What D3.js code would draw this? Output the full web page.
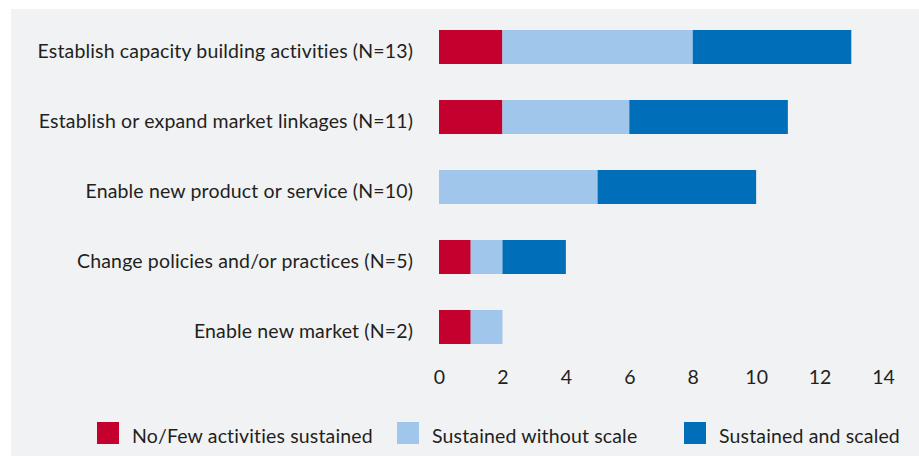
<!DOCTYPE html>
<html><head><meta charset="utf-8">
<script src="https://cdn.jsdelivr.net/npm/d3@7"></script>
<style>html,body{margin:0;padding:0;background:#fff;}svg{display:block;}</style>
</head><body>
<svg id="chart" width="919" height="456"></svg>
<script>
const categories = [
  "Establish capacity building activities (N=13)",
  "Establish or expand market linkages (N=11)",
  "Enable new product or service (N=10)",
  "Change policies and/or practices (N=5)",
  "Enable new market (N=2)"
];
const seriesNames = ["No/Few activities sustained", "Sustained without scale", "Sustained and scaled"];
const noFew = [2, 2, 0, 1, 1];
const withoutScale = [6, 4, 5, 1, 1];
const scaled = [5, 5, 5, 2, 0];
const ticks = [0, 2, 4, 6, 8, 10, 12, 14];
const colors = ["#c4002f", "#a1c6ec", "#006eb8"];

const svg = d3.select("#chart");
const font = "Lato, 'Gill Sans', sans-serif";
const textColor = "#231f20";
const fs = 19.5;

svg.append("rect").attr("x", 11).attr("y", 9).attr("width", 908).attr("height", 447).attr("fill", "#f1f2f4");

const x = d3.scaleLinear().domain([0, 14]).range([439, 883]);
const y = d3.scaleBand().domain(categories).range([12, 362]).paddingInner(0.514).paddingOuter(0.257);

const rows = categories.map((c, i) => ({cat: c, v: [noFew[i], withoutScale[i], scaled[i]]}));
const stack = d3.stack().keys([0, 1, 2]).value((d, k) => d.v[k]);
const layers = stack(rows);

svg.append("g").selectAll("g").data(layers).join("g")
  .attr("fill", (d, i) => colors[i])
  .selectAll("rect").data(d => d.filter(p => p[1] > p[0]))
  .join("rect")
  .attr("x", d => x(d[0]))
  .attr("width", d => x(d[1]) - x(d[0]))
  .attr("y", d => y(d.data.cat))
  .attr("height", y.bandwidth());

// category labels
svg.append("g").selectAll("text").data(categories).join("text")
  .attr("x", 413).attr("y", d => y(d) + y.bandwidth() / 2 + 11)
  .attr("text-anchor", "end")
  .attr("font-family", font).attr("font-size", fs).attr("fill", textColor)
  .attr("letter-spacing", 0.15)
  .text(d => d);

// x axis
const axis = d3.axisBottom(x).tickValues(ticks).tickSize(0).tickPadding(0);
const ag = svg.append("g").attr("transform", "translate(0,384)").call(axis);
ag.select(".domain").remove();
ag.selectAll("text").attr("y", 0).attr("dy", null)
  .attr("font-family", font).attr("font-size", fs).attr("fill", textColor);

// legend
const legendX = [97, 397, 684];
const lg = svg.append("g").selectAll("g").data(seriesNames).join("g")
  .attr("transform", (d, i) => `translate(${legendX[i]},422)`);
lg.append("rect").attr("width", 22).attr("height", 22).attr("fill", (d, i) => colors[i]);
lg.append("text").attr("x", 35).attr("y", 20.5)
  .attr("font-family", font).attr("font-size", fs).attr("fill", textColor)
  .attr("letter-spacing", 0.15)
  .text(d => d);
</script>
</body></html>
